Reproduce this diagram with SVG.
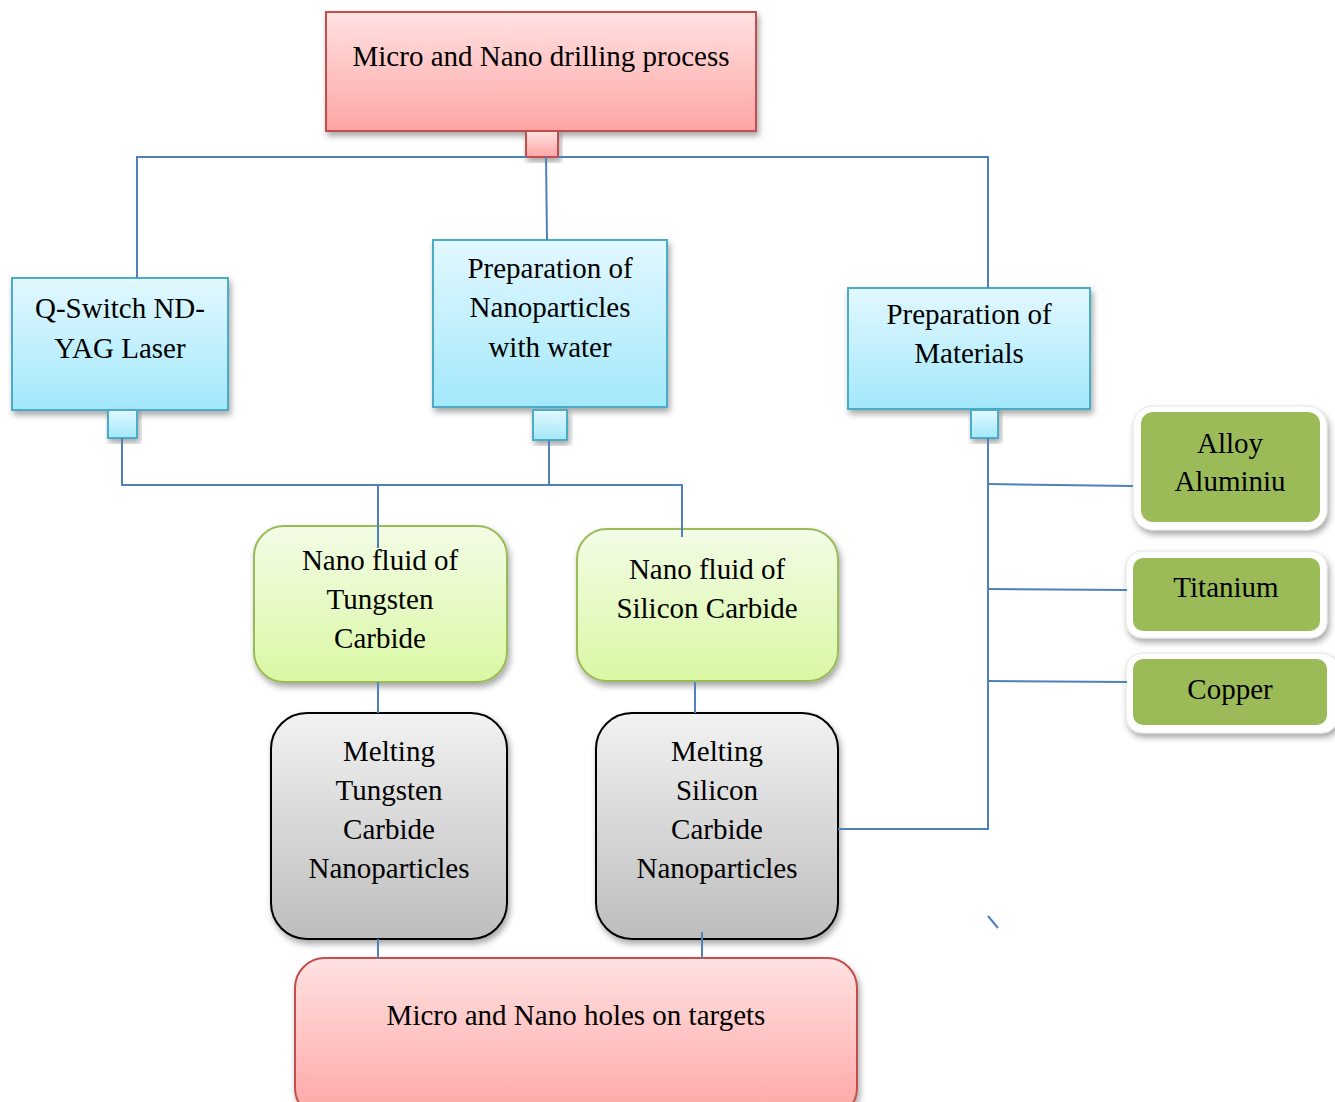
<svg xmlns="http://www.w3.org/2000/svg" width="1335" height="1102" viewBox="0 0 1335 1102">
<defs>
<linearGradient id="gRed" x1="0" y1="0" x2="0" y2="1"><stop offset="0" stop-color="#ffe2e2"/><stop offset="1" stop-color="#ffa5a5"/></linearGradient>
<linearGradient id="gCyan" x1="0" y1="0" x2="0" y2="1"><stop offset="0" stop-color="#e2f8ff"/><stop offset="1" stop-color="#a3e8fb"/></linearGradient>
<linearGradient id="gLime" x1="0" y1="0" x2="0" y2="1"><stop offset="0" stop-color="#f3fce6"/><stop offset="1" stop-color="#d9f8a4"/></linearGradient>
<linearGradient id="gGray" x1="0" y1="0" x2="0" y2="1"><stop offset="0" stop-color="#f2f2f2"/><stop offset="1" stop-color="#bdbdbd"/></linearGradient>
<filter id="sh" x="-10%" y="-10%" width="125%" height="130%"><feDropShadow dx="2" dy="4" stdDeviation="3" flood-color="#000" flood-opacity="0.35"/></filter>
</defs>
<style>
text{font-family:"Liberation Serif","Times New Roman",serif;font-size:29px;fill:#000;text-anchor:middle}
.red{fill:url(#gRed);stroke:#c0504d;stroke-width:2}
.cyan{fill:url(#gCyan);stroke:#4bacc6;stroke-width:2}
.lime{fill:url(#gLime);stroke:#9bbb59;stroke-width:2}
.gray{fill:url(#gGray);stroke:#000;stroke-width:2}
.gr{fill:#9bbb59;stroke:none}
.wh{fill:#fff;stroke:#e4e4e4;stroke-width:1}
.c{fill:none;stroke:#4f81bd;stroke-width:2}
</style>
<g id="n-top">
<rect class="red" x="326" y="12" width="430" height="119" filter="url(#sh)"/>
<rect class="red" x="526" y="131" width="32" height="26" filter="url(#sh)"/>
<text x="541" y="66">Micro and Nano drilling process</text>
</g>
<g id="n-qswitch">
<rect class="cyan" x="12" y="278" width="216" height="132" filter="url(#sh)"/>
<rect class="cyan" x="108" y="410" width="29" height="28" filter="url(#sh)"/>
<text x="120" y="318">Q-Switch ND-</text>
<text x="120" y="358">YAG Laser</text>
</g>
<g id="n-prepnano">
<rect class="cyan" x="433" y="240" width="234" height="167" filter="url(#sh)"/>
<rect class="cyan" x="533" y="410" width="34" height="30" filter="url(#sh)"/>
<text x="550" y="278">Preparation of</text>
<text x="550" y="317">Nanoparticles</text>
<text x="550" y="357">with water</text>
</g>
<g id="n-prepmat">
<rect class="cyan" x="848" y="288" width="242" height="121" filter="url(#sh)"/>
<rect class="cyan" x="971" y="410" width="27" height="28" filter="url(#sh)"/>
<text x="969" y="324">Preparation of</text>
<text x="969" y="363">Materials</text>
</g>
<g id="n-nfwc">
<rect class="lime" x="254" y="526" width="253" height="156" rx="30" filter="url(#sh)"/>
<text x="380" y="570">Nano fluid of</text>
<text x="380" y="609">Tungsten</text>
<text x="380" y="648">Carbide</text>
</g>
<g id="n-nfsic">
<rect class="lime" x="577" y="529" width="261" height="152" rx="30" filter="url(#sh)"/>
<text x="707" y="579">Nano fluid of</text>
<text x="707" y="618">Silicon Carbide</text>
</g>
<g id="n-mwc">
<rect class="gray" x="271" y="713" width="236" height="226" rx="36" filter="url(#sh)"/>
<text x="389" y="761">Melting</text>
<text x="389" y="800">Tungsten</text>
<text x="389" y="839">Carbide</text>
<text x="389" y="878">Nanoparticles</text>
</g>
<g id="n-msic">
<rect class="gray" x="596" y="713" width="242" height="226" rx="36" filter="url(#sh)"/>
<text x="717" y="761">Melting</text>
<text x="717" y="800">Silicon</text>
<text x="717" y="839">Carbide</text>
<text x="717" y="878">Nanoparticles</text>
</g>
<g id="n-holes">
<rect class="red" x="295" y="958" width="562" height="160" rx="30" filter="url(#sh)"/>
<text x="576" y="1025">Micro and Nano holes on targets</text>
</g>
<g id="n-alloy">
<rect class="wh" x="1133" y="406" width="194" height="124" rx="20" filter="url(#sh)"/>
<rect class="gr" x="1141" y="412" width="179" height="110" rx="12"/>
<text x="1230" y="453">Alloy</text>
<text x="1230" y="491">Aluminiu</text>
</g>
<g id="n-titanium">
<rect class="wh" x="1126" y="551" width="201" height="87" rx="16" filter="url(#sh)"/>
<rect class="gr" x="1133" y="558" width="187" height="73" rx="10"/>
<text x="1226" y="597">Titanium</text>
</g>
<g id="n-copper">
<rect class="wh" x="1126" y="653" width="212" height="80" rx="16" filter="url(#sh)"/>
<rect class="gr" x="1133" y="659" width="194" height="66" rx="10"/>
<text x="1230" y="699">Copper</text>
</g>
<g id="connectors">
<path class="c" d="M137 278V157H526M558 157H988V288"/>
<path class="c" d="M546 157L547 240"/>
<path class="c" d="M122 438V485H682V537"/>
<path class="c" d="M549 440V485"/>
<path class="c" d="M378 485V548"/>
<path class="c" d="M378 682V713"/>
<path class="c" d="M695 682V713"/>
<path class="c" d="M378 939V958"/>
<path class="c" d="M702 932V958"/>
<path class="c" d="M988 438V830"/>
<path class="c" d="M838 829H988"/>
<path class="c" d="M988 484L1133 486"/>
<path class="c" d="M988 589L1127 590"/>
<path class="c" d="M988 681L1127 682"/>
<path class="c" d="M988 916L998 928"/>
</g>
</svg>
